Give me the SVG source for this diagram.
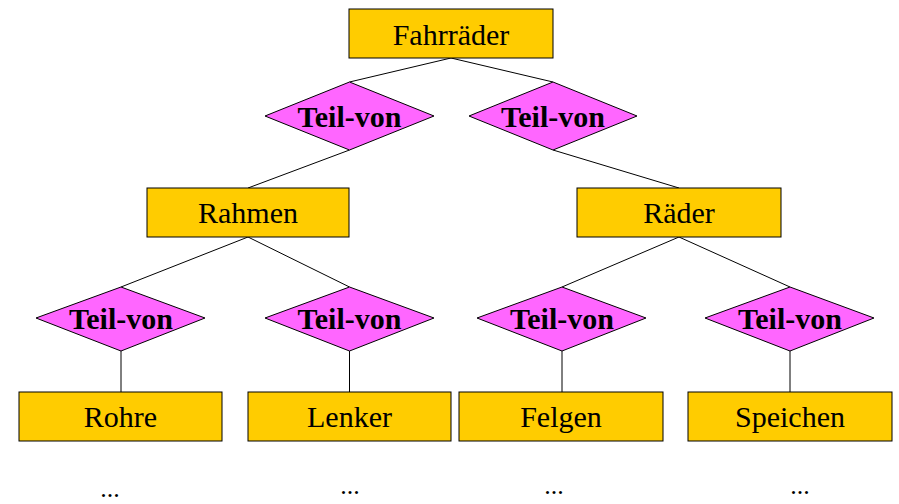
<svg xmlns="http://www.w3.org/2000/svg" width="899" height="504" viewBox="0 0 899 504">
<style>
.box{fill:#FFCC00;stroke:#000;stroke-width:1}
.rel{fill:#FF66FF;stroke:#000;stroke-width:1}
.lbl{font-family:"Liberation Serif","Times New Roman",serif;font-size:30px;text-anchor:middle;fill:#000}
.rl{font-family:"Liberation Serif","Times New Roman",serif;font-size:30px;font-weight:bold;text-anchor:middle;fill:#000}
.dots{font-family:"Liberation Serif","Times New Roman",serif;font-size:26px;text-anchor:middle;fill:#000}
.c{stroke:#000;stroke-width:1;fill:none}
</style>
<rect width="899" height="504" fill="#fff"/>
<g id="connectors" class="c">
<line x1="451" y1="58" x2="349.5" y2="82"/>
<line x1="451" y1="58" x2="553" y2="82"/>
<line x1="349.5" y1="150" x2="248" y2="188"/>
<line x1="553" y1="150" x2="679" y2="188"/>
<line x1="248" y1="237" x2="121" y2="287"/>
<line x1="248" y1="237" x2="349.5" y2="287"/>
<line x1="679" y1="237" x2="562" y2="287"/>
<line x1="679" y1="237" x2="790" y2="287"/>
<line x1="121" y1="351" x2="121" y2="392"/>
<line x1="349.5" y1="351" x2="349.5" y2="392"/>
<line x1="562" y1="351" x2="562" y2="392"/>
<line x1="790" y1="351" x2="790" y2="392"/>
</g>
<g id="fahrraeder"><rect class="box" x="349" y="9" width="204" height="49"/><text class="lbl" x="451" y="45">Fahrräder</text></g>
<g id="teilvon1"><polygon class="rel" points="349.5,82 434,116 349.5,150 265,116"/><text class="rl" x="349.5" y="127">Teil-von</text></g>
<g id="teilvon2"><polygon class="rel" points="553,82 637,116 553,150 469,116"/><text class="rl" x="553" y="127">Teil-von</text></g>
<g id="rahmen"><rect class="box" x="147" y="188" width="202" height="49"/><text class="lbl" x="248" y="223">Rahmen</text></g>
<g id="raeder"><rect class="box" x="577" y="188" width="204" height="49"/><text class="lbl" x="679" y="223">Räder</text></g>
<g id="teilvon3"><polygon class="rel" points="121,287 205,318 121,351 36,318"/><text class="rl" x="121" y="329">Teil-von</text></g>
<g id="teilvon4"><polygon class="rel" points="349.5,287 434,318 349.5,351 265,318"/><text class="rl" x="349.5" y="329">Teil-von</text></g>
<g id="teilvon5"><polygon class="rel" points="562,287 646,318 562,351 477,318"/><text class="rl" x="562" y="329">Teil-von</text></g>
<g id="teilvon6"><polygon class="rel" points="790,287 874,318 790,351 705,318"/><text class="rl" x="790" y="329">Teil-von</text></g>
<g id="rohre"><rect class="box" x="19" y="392" width="203" height="49"/><text class="lbl" x="120.5" y="427">Rohre</text></g>
<g id="lenker"><rect class="box" x="248" y="392" width="203" height="49"/><text class="lbl" x="349.5" y="427">Lenker</text></g>
<g id="felgen"><rect class="box" x="459" y="392" width="204" height="49"/><text class="lbl" x="561" y="427">Felgen</text></g>
<g id="speichen"><rect class="box" x="688" y="392" width="204" height="49"/><text class="lbl" x="790" y="427">Speichen</text></g>
<g id="more">
<text class="dots" x="110" y="497">...</text>
<text class="dots" x="350" y="494">...</text>
<text class="dots" x="554" y="494">...</text>
<text class="dots" x="800" y="494">...</text>
</g>
</svg>
